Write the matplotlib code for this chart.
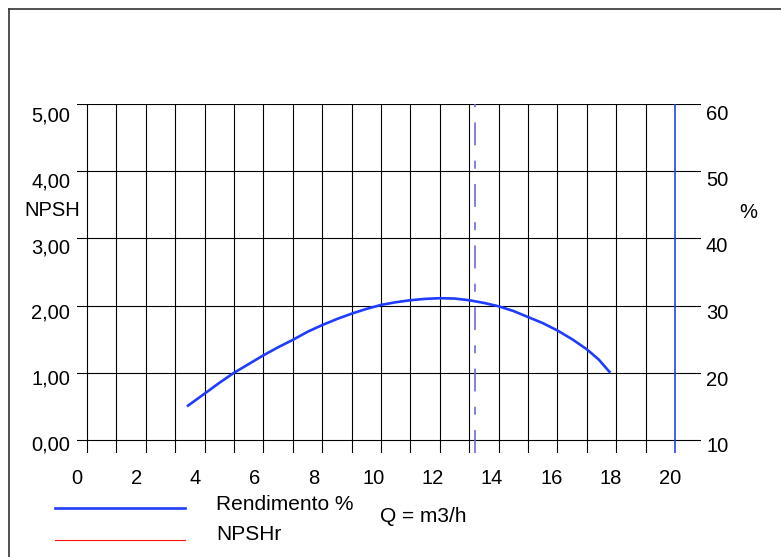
import matplotlib
matplotlib.use("Agg")
import matplotlib.pyplot as plt
from matplotlib.lines import Line2D

plt.rcParams['font.family'] = ['Liberation Sans', 'DejaVu Sans']
plt.rcParams['lines.scale_dashes'] = False

# ---- data ----
q_ticks = list(range(0, 21, 2))
q_tick_labels = [str(v) for v in q_ticks]
npsh_ticks = [0, 1, 2, 3, 4, 5]
npsh_tick_labels = ["0,00", "1,00", "2,00", "3,00", "4,00", "5,00"]
eff_ticks = [10, 20, 30, 40, 50, 60]
eff_tick_labels = ["10", "20", "30", "40", "50", "60"]

q_eff = [3.4, 4.0, 4.5, 5.0, 5.5, 6.0, 6.5, 7.0, 7.5, 8.0, 8.5, 9.0, 9.5, 10.0,
         10.5, 11.0, 11.5, 12.0, 12.5, 13.0, 13.5, 14.0, 14.5, 15.0, 15.5,
         16.0, 16.5, 17.0, 17.4, 17.8]
eff = [15.0, 16.9, 18.5, 20.0, 21.3, 22.6, 23.8, 24.9, 26.1, 27.1, 28.0, 28.8,
       29.5, 30.1, 30.5, 30.8, 31.0, 31.1, 31.05, 30.8, 30.4, 29.9, 29.2, 28.3,
       27.4, 26.3, 25.0, 23.5, 22.0, 20.0]

q_operating = 13.2
q_max = 20

W, H = 781, 557
fig = plt.figure(figsize=(W / 100, H / 100), dpi=100)

def fx(px):
    return px / W

def fy(py):
    return 1 - py / H

# axes geometry in pixels
L, R, T, B = 77, 701, 104, 453
ax = fig.add_axes([fx(L), fy(B), (R - L) / W, (B - T) / H])
x0px, xscale = 87, 29.4
y0px, yscale = 440, 67.2
ax.set_xlim((L - x0px) / xscale, (R - x0px) / xscale)
ax.set_ylim(-(B - y0px) / yscale, 5)
ybot = ax.get_ylim()[0]
for s in ax.spines.values():
    s.set_visible(False)
ax.set_xticks([])
ax.set_yticks([])

# horizontal grid
for v in npsh_ticks:
    ax.axhline(v, color='black', lw=0.8, zorder=1)
# vertical grid every 1
for q in range(0, q_max):
    ax.plot([q, q], [ybot, 5], color='black', lw=0.8, zorder=1)
ax.plot([q_max, q_max], [ybot, 5], color='#2244ee', lw=1.2, zorder=2)

# operating point dashed line
ax.plot([q_operating, q_operating], [ybot, 5], color='#6b6bdc', lw=1.2,
        dashes=(16.5, 11, 5.8, 11), zorder=2)

# efficiency curve on secondary scale
ax2 = ax.twinx()
ax2.set_ylim(10 + ybot * 10, 60)
ax2.set_xlim(ax.get_xlim())
for s in ax2.spines.values():
    s.set_visible(False)
ax2.set_yticks([])
ax2.plot(q_eff, eff, color='#1f3cff', lw=1.9, solid_capstyle='butt',
         solid_joinstyle='round', zorder=3)

fs_num = 14.5
fs_txt = 15
# left tick labels
for v, lab in zip(npsh_ticks, npsh_tick_labels):
    fig.text(fx(70), fy(116 + (5 - v) * 65.8), lab, ha='right', va='center', fontsize=fs_num)
# right tick labels
for v, lab in zip(eff_ticks, eff_tick_labels):
    fig.text(fx(706), fy(114 + (60 - v) / 10 * 66.5), lab, ha='left', va='center', fontsize=fs_num)
# x tick labels
for v, lab in zip(q_ticks, q_tick_labels):
    fig.text(fx(77 + v * 29.65), fy(478), lab, ha='center', va='center', fontsize=fs_num)

fig.text(fx(52), fy(210), "NPSH", ha='center', va='center', fontsize=fs_num)
fig.text(fx(748), fy(212), "%", ha='center', va='center', fontsize=fs_num)

# legend
fig.add_artist(Line2D([fx(55), fx(185)], [fy(508), fy(508)], color='#1f3cff', lw=1.9))
fig.add_artist(Line2D([fx(55), fx(185)], [fy(540), fy(540)], color='#ff1010', lw=0.8))
fig.text(fx(216), fy(505), "Rendimento %", ha='left', va='center', fontsize=fs_txt)
fig.text(fx(216), fy(535), "NPSHr", ha='left', va='center', fontsize=fs_txt)
fig.text(fx(380), fy(517), "Q = m3/h", ha='left', va='center', fontsize=fs_txt)

# outer frame (top and left)
fig.add_artist(Line2D([fx(8.5), 1], [fy(8.5), fy(8.5)], color='#333333', lw=1.2))
fig.add_artist(Line2D([fx(8.5), fx(8.5)], [fy(8.5), 0], color='#333333', lw=1.2))

fig.savefig("out.png", dpi=100, facecolor='white')
